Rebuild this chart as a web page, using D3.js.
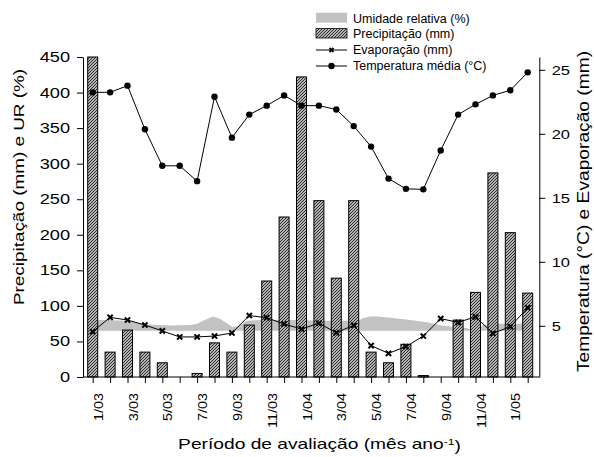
<!DOCTYPE html>
<html><head><meta charset="utf-8">
<script src="https://cdn.jsdelivr.net/npm/d3@7"></script>
<style>
body{margin:0;background:#fff}
text{font-family:Arial,"Liberation Sans",sans-serif;fill:#000}
</style>
</head><body>
<svg id="c" width="594" height="457"></svg>
<script>
// ---- data ----
const months = ["1/03","2/03","3/03","4/03","5/03","6/03","7/03","8/03","9/03","10/03","11/03","12/03",
                "1/04","2/04","3/04","4/04","5/04","6/04","7/04","8/04","9/04","10/04","11/04","12/04",
                "1/05","2/05"];
const tickLabels = ["1/03","3/03","5/03","7/03","9/03","11/03","1/04","3/04","5/04","7/04","9/04","11/04","1/05"];
const precipitacao = [450,35,66,35,20,0,5,48,35,73,135,225,422,248,139,248,35,20,46,2,0,80,119,287,203,118];
const evaporacao = [4.54,5.66,5.45,5.06,4.6,4.13,4.13,4.2,4.44,5.8,5.63,5.14,4.75,5.2,4.46,5.04,3.45,2.85,3.37,4.2,5.56,5.27,5.7,4.41,4.93,6.41];
const temperatura = [23.24,23.24,23.76,20.35,17.5,17.5,16.3,22.9,19.7,21.5,22.2,23.0,22.2,22.2,21.9,20.6,19.0,16.5,15.7,15.66,18.7,21.5,22.3,23.0,23.4,24.8];
// relative humidity: position in months since 1/03, value (%)
const urMes = [0,0.42,2.0,3.1,3.9,4.55,5.6,6.0,6.45,6.9,7.3,7.7,8.05,8.45,8.85,9.6,10.75,11.9,13.05,14.8,15.35,15.55,15.95,16.35,17.25,18.25,19.2,20.15,20.95,21.5,21.8,22.1,22.45,23.25,24.55,25.3];
const urValor = [79,80,79,74,73,72.5,73,75,80,85,82,76,70,72,79,80,80,80,79,79,80,83,85,85,83,80,77,72,69.5,69,66,66,73,75,75,75];
const urBase = 65;
const leftTicks = [0,50,100,150,200,250,300,350,400,450];
const rightTicks = [5,10,15,20,25];

// ---- layout ----
const svg = d3.select("#c");
const L = 83, R = 539.3, T = 57, B = 377;
const x = d3.scalePoint().domain(months).range([92.7, 527.7]);
const xi = d3.scaleLinear().domain([0, months.length-1]).range([92.7, 527.7]);
const yL = d3.scaleLinear().domain([0,450]).range([B,T]);
const yR = d3.scaleLinear().domain([1,26]).range([B,T]);

const defs = svg.append("defs");
const pat = defs.append("pattern").attr("id","hatch").attr("patternUnits","userSpaceOnUse")
  .attr("width",3).attr("height",3);
pat.append("rect").attr("width",3).attr("height",3).attr("fill","#b5b5b5");
pat.append("path").attr("d","M-0.75,0.75 l1.5,-1.5 M0,3 l3,-3 M2.25,3.75 l1.5,-1.5")
  .attr("stroke","#111").attr("stroke-width",0.85);

function stretchText(node, f){
  const tx = +node.getAttribute("x") || 0;
  node.setAttribute("x", 0);
  node.setAttribute("transform", `translate(${tx},0) scale(${f},1)`);
}

// RH band
svg.append("path")
  .datum(urMes.map((m,i)=>[m,urValor[i]]))
  .attr("fill","#c2c2c2")
  .attr("d", d3.area().x(d=>xi(d[0])).y0(yL(urBase)).y1(d=>yL(d[1])));

// Bars
svg.append("g").selectAll("rect")
  .data(months.map((m,i)=>({m, v:precipitacao[i]})).filter(d=>d.v>0))
  .join("rect")
  .attr("x", d=>x(d.m)-5).attr("width",10)
  .attr("y", d=>yL(d.v)).attr("height", d=>B-yL(d.v))
  .attr("fill","url(#hatch)").attr("stroke","#000").attr("stroke-width",1);

// Evaporation line
const evapData = months.map((m,i)=>[m, evaporacao[i]]);
svg.append("path").datum(evapData)
  .attr("fill","none").attr("stroke","#000").attr("stroke-width",1)
  .attr("d", d3.line().x(d=>x(d[0])).y(d=>yR(d[1])));
const xMark = s => `M${-s},${-s}L${s},${s}M${-s},${s}L${s},${-s}`;
svg.append("g").selectAll("path").data(evapData).join("path")
  .attr("transform", d=>`translate(${x(d[0])},${yR(d[1])})`)
  .attr("d", xMark(2.6)).attr("stroke","#000").attr("stroke-width",2).attr("fill","none");

// Temperature line
const tempData = months.map((m,i)=>[m, temperatura[i]]);
svg.append("path").datum(tempData)
  .attr("fill","none").attr("stroke","#000").attr("stroke-width",1)
  .attr("d", d3.line().x(d=>x(d[0])).y(d=>yR(d[1])));
svg.append("g").selectAll("circle").data(tempData).join("circle")
  .attr("cx", d=>x(d[0])).attr("cy", d=>yR(d[1])).attr("r",3.2).attr("fill","#000");

// Axes
const gL = svg.append("g").attr("transform",`translate(${L},0)`)
  .call(d3.axisLeft(yL).tickValues(leftTicks).tickSize(6).tickSizeOuter(0).tickPadding(7));
gL.selectAll("text").style("font-size","14px").each(function(){stretchText(this,1.3);});

const gR = svg.append("g").attr("transform",`translate(${R},0)`)
  .call(d3.axisRight(yR).tickValues(rightTicks).tickSize(6).tickSizeOuter(0).tickPadding(6.4));
gR.selectAll("text").style("font-size","13.5px").each(function(){stretchText(this,1.22);});

const gB = svg.append("g").attr("transform",`translate(0,${B})`)
  .call(d3.axisBottom(x).tickSize(6).tickFormat(d=>tickLabels.includes(d)?d:""));
gB.select(".domain").remove();
gB.append("line").attr("x1",L).attr("x2",R).attr("stroke","#000");
gB.selectAll("text")
  .style("font-size","12px")
  .attr("x",0).attr("y",0).attr("dy",0)
  .attr("text-anchor","end")
  .attr("transform","translate(9.5,16) rotate(-90) scale(1.2,1)");
svg.selectAll(".domain, .tick line").attr("stroke","#000");

// Axis titles
svg.append("text").attr("text-anchor","middle").style("font-size","15.5px")
  .attr("transform","translate(24,187) rotate(-90) scale(1.22,1)")
  .text("Precipitação (mm) e UR (%)");
svg.append("text").attr("text-anchor","middle").style("font-size","16px")
  .attr("transform","translate(589,211.5) rotate(-90) scale(1.2,1)")
  .text("Temperatura (°C) e Evaporação (mm)");
const xt = svg.append("text").attr("text-anchor","middle").style("font-size","15px")
  .attr("transform","translate(319.5,449) scale(1.28,1)");
xt.append("tspan").text("Período de avaliação (mês ano");
xt.append("tspan").attr("dy","-0.45em").style("font-size","9.5px").text("-1");
xt.append("tspan").attr("dy","0.45em").text(")");

// Legend
const lg = svg.append("g").style("font-size","12.5px");
const lx0 = 316, lx1 = 347, ltx = 353;
lg.append("rect").attr("x",lx0).attr("y",12.7).attr("width",lx1-lx0).attr("height",10).attr("fill","#c2c2c2");
lg.append("text").attr("x",ltx).attr("y",18.3).attr("dy","0.35em").text("Umidade relativa (%)");
lg.append("rect").attr("x",lx0).attr("y",28.6).attr("width",lx1-lx0).attr("height",9.4)
  .attr("fill","url(#hatch)").attr("stroke","#000").attr("stroke-width",0.8);
lg.append("text").attr("x",ltx).attr("y",33.7).attr("dy","0.35em").text("Precipitação (mm)");
lg.append("line").attr("x1",lx0).attr("x2",lx1).attr("y1",50).attr("y2",50).attr("stroke","#000");
lg.append("path").attr("transform",`translate(${(lx0+lx1)/2},50)`).attr("d",xMark(2))
  .attr("stroke","#000").attr("stroke-width",1.8);
lg.append("text").attr("x",ltx).attr("y",50).attr("dy","0.35em").text("Evaporação (mm)");
lg.append("line").attr("x1",lx0).attr("x2",lx1).attr("y1",66).attr("y2",66).attr("stroke","#000");
lg.append("circle").attr("cx",(lx0+lx1)/2).attr("cy",66).attr("r",3.2).attr("fill","#000");
lg.append("text").attr("x",ltx).attr("y",66).attr("dy","0.35em").text("Temperatura média (°C)");
</script>
</body></html>
